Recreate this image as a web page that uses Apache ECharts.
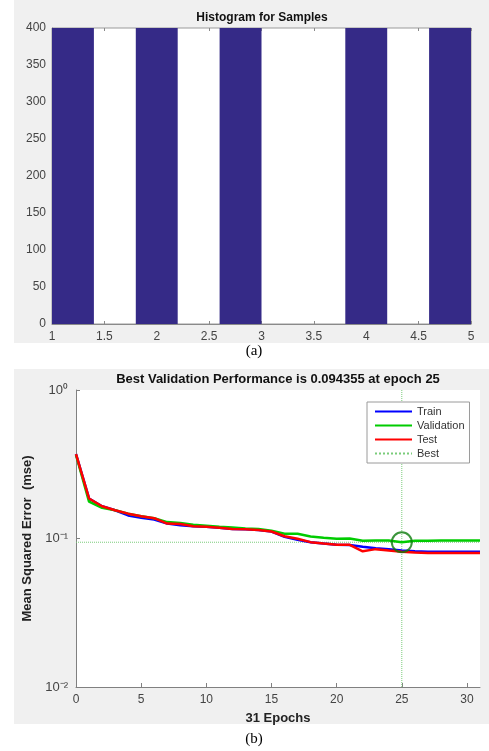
<!DOCTYPE html>
<html>
<head>
<meta charset="utf-8">
<script src="https://cdn.jsdelivr.net/npm/echarts@6/dist/echarts.min.js"></script>
<style>
html,body{margin:0;padding:0;background:#fff;}
#c{width:489px;height:751px;}
</style>
</head>
<body>
<div id="c"></div>
<script>
// ---- Histogram data ----
const histEdges = [1, 1.4, 1.8, 2.2, 2.6, 3.0, 3.4, 3.8, 4.2, 4.6, 5.0];
const histCounts = [400, 0, 400, 0, 400, 0, 0, 400, 0, 400];
const histXTicks = [1, 1.5, 2, 2.5, 3, 3.5, 4, 4.5, 5];
const histYTicks = [0, 50, 100, 150, 200, 250, 300, 350, 400];

// ---- Performance data ----
const epochs = [0,1,2,3,4,5,6,7,8,9,10,11,12,13,14,15,16,17,18,19,20,21,22,23,24,25,26,27,28,29,30,31];
const trainMSE = [0.37,0.186,0.165,0.155,0.143,0.138,0.134,0.126,0.123,0.121,0.120,0.118,0.116,0.1154,0.114,0.1114,0.1026,0.098,0.0945,0.0925,0.0907,0.0905,0.088,0.086,0.0845,0.083,0.082,0.0815,0.0815,0.0815,0.0815,0.0815];
const validationMSE = [0.365,0.177,0.161,0.155,0.147,0.141,0.137,0.129,0.127,0.124,0.122,0.120,0.1186,0.117,0.116,0.113,0.1076,0.1076,0.103,0.101,0.0995,0.1,0.0965,0.097,0.0968,0.094355,0.0965,0.0965,0.0968,0.0968,0.097,0.097];
const testMSE = [0.37,0.186,0.165,0.155,0.147,0.141,0.137,0.126,0.125,0.121,0.120,0.118,0.116,0.1154,0.114,0.1114,0.1035,0.0995,0.0945,0.0925,0.0907,0.0907,0.082,0.0848,0.083,0.0815,0.0805,0.080,0.080,0.080,0.080,0.080];
const bestEpoch = 25;
const bestValue = 0.094355;
const yLogTicks = [0.01, 0.1, 1];
const yLogLabels = ['10\u207B\u00B2', '10\u207B\u00B9', '10\u2070'];
const xEpochTicks = [0, 5, 10, 15, 20, 25, 30];

const FONT = '"Liberation Sans", Arial, Helvetica, sans-serif';

const histData = histCounts.map((c, i) => [histEdges[i], histEdges[i + 1], c]);
const toPairs = arr => arr.map((v, i) => [epochs[i], v]);

const chart = echarts.init(document.getElementById('c'), null, {renderer: 'canvas'});

const axisLabelStyle = {color: '#444', fontSize: 12, fontFamily: FONT};

const option = {
  backgroundColor: '#fff',
  animation: false,
  graphic: [
    {type: 'rect', z: -100, silent: true, shape: {x: 14, y: 0, width: 475, height: 343}, style: {fill: '#f0f0f0'}},
    {type: 'rect', z: -100, silent: true, shape: {x: 14, y: 369, width: 475, height: 355}, style: {fill: '#f0f0f0'}},
    {type: 'text', x: 262, y: 18, style: {text: 'Histogram for Samples', align: 'center', verticalAlign: 'middle', font: 'bold 12px ' + FONT, fill: '#111'}},
    {type: 'text', x: 278, y: 379, style: {text: 'Best Validation Performance is 0.094355 at epoch 25', align: 'center', verticalAlign: 'middle', font: 'bold 13px ' + FONT, fill: '#111'}},
    {type: 'text', x: 254, y: 351, style: {text: '(a)', align: 'center', verticalAlign: 'middle', font: '15px "Liberation Serif", "Times New Roman", serif', fill: '#000'}},
    {type: 'text', x: 254, y: 739, style: {text: '(b)', align: 'center', verticalAlign: 'middle', font: '15px "Liberation Serif", "Times New Roman", serif', fill: '#000'}}
  ],
  grid: [
    {left: 52, top: 28, width: 419, height: 296, show: true, backgroundColor: '#fff', borderColor: '#9a9a9a', borderWidth: 1, containLabel: false},
    {left: 76, top: 390, width: 404, height: 297, show: true, backgroundColor: '#fff', borderWidth: 0, containLabel: false}
  ],
  xAxis: [
    {gridIndex: 0, type: 'value', min: 1, max: 5, interval: 0.5,
     axisLine: {show: true, lineStyle: {color: '#8a8a8a'}},
     axisTick: {show: true, inside: true, length: 3, lineStyle: {color: '#8a8a8a'}},
     axisLabel: Object.assign({margin: 7}, axisLabelStyle),
     splitLine: {show: false}},
    {gridIndex: 0, type: 'value', position: 'top', min: 1, max: 5, interval: 0.5,
     axisLine: {show: false},
     axisTick: {show: true, inside: true, length: 3, lineStyle: {color: '#8a8a8a'}},
     axisLabel: {show: false}, splitLine: {show: false}},
    {gridIndex: 1, type: 'value', min: 0, max: 31, interval: 5,
     name: '31 Epochs', nameLocation: 'middle', nameGap: 25,
     nameTextStyle: {fontWeight: 'bold', fontSize: 13, color: '#222', fontFamily: FONT},
     axisLine: {show: true, lineStyle: {color: '#808080', width: 1}},
     axisTick: {show: true, inside: true, length: 4, lineStyle: {color: '#808080'}},
     axisLabel: Object.assign({margin: 7, showMaxLabel: false}, axisLabelStyle),
     splitLine: {show: false}}
  ],
  yAxis: [
    {gridIndex: 0, type: 'value', min: 0, max: 400, interval: 50,
     axisLine: {show: true, lineStyle: {color: '#8a8a8a'}},
     axisTick: {show: true, inside: true, length: 3, lineStyle: {color: '#8a8a8a'}},
     axisLabel: Object.assign({margin: 6}, axisLabelStyle),
     splitLine: {show: false}},
    {gridIndex: 1, type: 'log', logBase: 10, min: 0.01, max: 1,
     name: 'Mean Squared Error  (mse)', nameLocation: 'middle', nameGap: 35,
     nameTextStyle: {fontWeight: 'bold', fontSize: 13, color: '#222', fontFamily: FONT},
     axisLine: {show: true, lineStyle: {color: '#808080', width: 1}},
     axisTick: {show: true, inside: true, length: 4, lineStyle: {color: '#808080'}},
     axisLabel: Object.assign({margin: 8, formatter: v => {
       const i = yLogTicks.findIndex(t => Math.abs(Math.log10(t) - Math.log10(v)) < 1e-6);
       return i >= 0 ? yLogLabels[i] : '';
     }}, axisLabelStyle, {fontSize: 13}),
     splitLine: {show: false}}
  ],
  legend: {
    data: ['Train', 'Validation', 'Test', 'Best'],
    orient: 'vertical', left: 367, top: 402,
    itemWidth: 37, itemHeight: 10, itemGap: 3,
    padding: [4, 5, 4, 7],
    backgroundColor: '#fff', borderColor: '#9a9a9a', borderWidth: 1, borderRadius: 0,
    itemStyle: {opacity: 0},
    textStyle: {fontSize: 11, color: '#333', fontFamily: FONT}
  },
  series: [
    {type: 'custom', name: 'Histogram', xAxisIndex: 0, yAxisIndex: 0,
     data: histData,
     encode: {x: [0, 1], y: 2},
     renderItem: function (params, api) {
       const p0 = api.coord([api.value(0), api.value(2)]);
       const p1 = api.coord([api.value(1), 0]);
       return {type: 'rect', shape: {x: p0[0], y: p0[1], width: p1[0] - p0[0], height: p1[1] - p0[1]},
               style: {fill: '#352a87'}};
     }},
    {type: 'line', name: 'Train', xAxisIndex: 2, yAxisIndex: 1, data: toPairs(trainMSE),
     showSymbol: false, symbol: 'none', lineStyle: {color: '#0000ff', width: 2.5}, itemStyle: {color: '#0000ff'}, z: 3},
    {type: 'line', name: 'Validation', xAxisIndex: 2, yAxisIndex: 1, data: toPairs(validationMSE),
     showSymbol: false, symbol: 'none', lineStyle: {color: '#00cc00', width: 2.5}, itemStyle: {color: '#00cc00'}, z: 4},
    {type: 'line', name: 'Test', xAxisIndex: 2, yAxisIndex: 1, data: toPairs(testMSE),
     showSymbol: false, symbol: 'none', lineStyle: {color: '#ff0000', width: 2.5}, itemStyle: {color: '#ff0000'}, z: 5},
    {type: 'line', name: 'Best', xAxisIndex: 2, yAxisIndex: 1,
     data: [[0, bestValue], [31, bestValue], '-', [bestEpoch, 0.01], [bestEpoch, 1]],
     connectNulls: false, showSymbol: false, symbol: 'none',
     lineStyle: {color: '#7acc7a', width: 1, type: 'dotted'}, itemStyle: {color: '#7acc7a'}, z: 2},
    {type: 'scatter', name: 'BestPoint', xAxisIndex: 2, yAxisIndex: 1,
     data: [[bestEpoch, bestValue]], symbol: 'circle', symbolSize: 20,
     itemStyle: {color: 'rgba(0,0,0,0)', borderColor: '#0a7a0a', borderWidth: 2}, z: 6}
  ]
};
chart.setOption(option);
</script>
</body>
</html>
